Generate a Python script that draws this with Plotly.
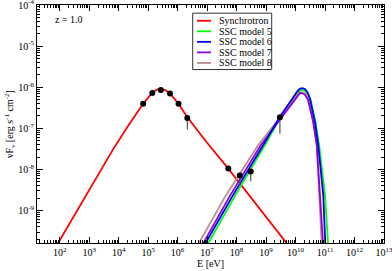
import plotly.graph_objects as go

# ---- data (log10 values) ----
sync_logE = [1.8, 3.0, 3.82, 4.33, 4.83, 5.14, 5.3, 5.43, 5.58, 5.74, 6.03, 6.33, 7.0, 7.72, 8.5, 9.69, 9.9]
sync_logF = [-9.97, -8.50, -7.50, -6.93, -6.40, -6.13, -6.06, -6.04, -6.07, -6.15, -6.40, -6.73, -7.35, -7.98, -8.70, -9.79, -9.98]

ssc5_logE = [6.92, 7.94, 8.96, 9.47, 9.86, 10.07, 10.15, 10.22, 10.32, 10.42, 10.51, 10.68, 10.80, 11.0, 11.12]
ssc5_logF = [-9.95, -8.65, -7.41, -6.75, -6.35, -6.13, -6.08, -6.06, -6.09, -6.17, -6.30, -6.85, -7.41, -8.62, -10.0]

ssc6_logE = [6.8, 7.86, 8.90, 9.47, 9.86, 10.07, 10.16, 10.24, 10.33, 10.41, 10.49, 10.66, 10.77, 10.94, 11.02]
ssc6_logF = [-9.98, -8.65, -7.41, -6.72, -6.31, -6.09, -6.03, -6.02, -6.05, -6.13, -6.28, -6.85, -7.41, -8.62, -10.0]

ssc7_logE = [6.75, 7.77, 8.82, 9.47, 9.86, 10.07, 10.14, 10.20, 10.32, 10.43, 10.60, 10.72, 10.82, 10.95]
ssc7_logF = [-9.95, -8.65, -7.41, -6.78, -6.41, -6.19, -6.15, -6.14, -6.18, -6.32, -6.85, -7.41, -8.62, -10.0]

ssc8_logE = [6.6, 7.62, 8.73, 9.47, 9.86, 10.07, 10.14, 10.20, 10.32, 10.43, 10.60, 10.72, 10.81, 10.90]
ssc8_logF = [-9.95, -8.65, -7.41, -6.74, -6.38, -6.18, -6.13, -6.12, -6.15, -6.30, -6.83, -7.40, -8.62, -10.0]

obs_logE = [4.83, 5.14, 5.43, 5.74, 6.03, 6.33, 7.72, 8.11, 8.48, 9.47]
obs_logF = [-6.40, -6.14, -6.07, -6.15, -6.40, -6.75, -7.98, -8.15, -8.05, -6.73]
obs_logLow = [-6.40, -6.14, -6.07, -6.15, -6.40, -7.03, -7.98, -8.37, -8.29, -7.13]

x_ticks = [2, 3, 4, 5, 6, 7, 8, 9, 10, 11, 12, 13]
y_ticks = [-9, -8, -7, -6, -5, -4]

series_names = ["Synchrotron", "SSC model 5", "SSC model 6", "SSC model 7", "SSC model 8"]
series_colors = ["#ff0000", "#00ff00", "#0000ff", "#9400d3", "#bc8f8f"]

FONT = "Liberation Serif"


def lin(v):
    return [10 ** a for a in v]


fig = go.Figure()
curves = [(sync_logE, sync_logF, 0), (ssc5_logE, ssc5_logF, 1), (ssc8_logE, ssc8_logF, 4),
          (ssc7_logE, ssc7_logF, 3), (ssc6_logE, ssc6_logF, 2)]
for le, lf, idx in curves:
    fig.add_trace(go.Scatter(x=lin(le), y=lin(lf), mode="lines", name=series_names[idx],
                             line=dict(color=series_colors[idx], width=1.8), showlegend=False))

obs_y = lin(obs_logF)
obs_low = lin(obs_logLow)
fig.add_trace(go.Scatter(
    x=lin(obs_logE), y=obs_y, mode="markers", showlegend=False,
    marker=dict(color="black", size=6),
    error_y=dict(type="data", symmetric=False, array=[0] * len(obs_y),
                 arrayminus=[a - b for a, b in zip(obs_y, obs_low)],
                 color="#555555", thickness=1.2, width=0)))

# ---- layout ----
L, R, T, B = 37, 8, 4.5, 27.5
W, H = 392, 271
pw, ph = W - L - R, H - T - B


def px2paper(x, y):
    return (x - L) / pw, (H - B - y) / ph


axis_common = dict(type="log", showline=True, linecolor="black", linewidth=1, mirror="allticks",
                   ticks="inside", ticklen=6, tickcolor="black", showgrid=False, zeroline=False,
                   ticklabeloverflow="allow",
                   tickfont=dict(family=FONT, size=10, color="black"))

fig.update_xaxes(**axis_common, range=[1.23, 13.001],
                 tickvals=[10 ** v for v in x_ticks],
                 ticktext=["10<sup>%d</sup>" % v for v in x_ticks],
                 minor=dict(ticks="inside", ticklen=3, tickcolor="black",
                            tickvals=[k * 10 ** n for n in range(1, 13) for k in range(2, 10)]),
                 title=dict(text="E [eV]", font=dict(family=FONT, size=10, color="black"), standoff=2))
fig.update_yaxes(**axis_common, range=[-9.79, -3.999],
                 tickvals=[10 ** v for v in y_ticks],
                 ticktext=["10<sup>%d</sup>" % v for v in y_ticks],
                 minor=dict(ticks="inside", ticklen=3, tickcolor="black",
                            tickvals=[k * 10.0 ** n for n in range(-10, -4) for k in range(2, 10)]),
                 title=dict(text="νF<sub>ν</sub> [erg s<sup>-1</sup> cm<sup>-2</sup>]",
                            font=dict(family=FONT, size=10, color="black"), standoff=2))

# manual legend (compact, like the original)
shapes = []
annotations = []
x0, y0 = px2paper(192.7, 12.7)
x1, y1 = px2paper(271.7, 69.3)
shapes.append(dict(type="rect", xref="paper", yref="paper", x0=x0, y0=y1, x1=x1, y1=y0,
                   line=dict(color="#333333", width=1), fillcolor="white", layer="above"))
for i, (nm, col) in enumerate(zip(series_names, series_colors)):
    yy = 20.3 + i * 10.6
    lx0, ly = px2paper(197, yy)
    lx1, _ = px2paper(211, yy)
    shapes.append(dict(type="line", xref="paper", yref="paper", x0=lx0, x1=lx1, y0=ly, y1=ly,
                       line=dict(color=col, width=1.8), layer="above"))
    tx, _ = px2paper(217, yy)
    annotations.append(dict(text=nm, xref="paper", yref="paper", x=tx, y=ly, xanchor="left",
                            yanchor="middle", showarrow=False,
                            font=dict(family=FONT, size=10, color="black")))

zx, zy = px2paper(53, 19)
annotations.append(dict(text="z = 1.0", xref="paper", yref="paper", x=zx, y=zy, xanchor="left",
                        yanchor="middle", showarrow=False,
                        font=dict(family=FONT, size=10, color="black")))

fig.update_layout(width=W, height=H, margin=dict(l=L, r=R, t=T, b=B, autoexpand=False),
                  paper_bgcolor="white", plot_bgcolor="white", showlegend=False,
                  shapes=shapes, annotations=annotations)

fig.write_html("out.html", config={"displayModeBar": False},
               post_script="document.body.style.margin='0px';")
